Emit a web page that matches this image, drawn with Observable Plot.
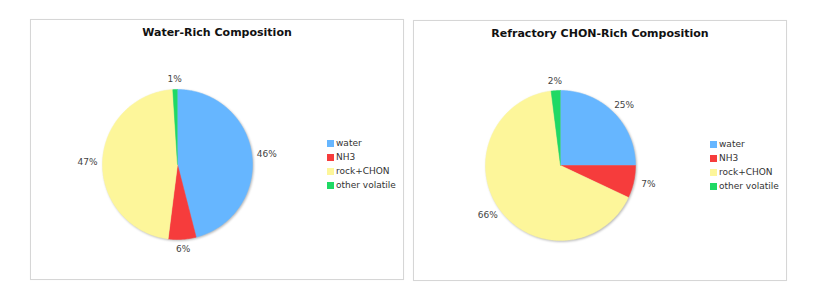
<!DOCTYPE html>
<html>
<head>
<meta charset="utf-8">
<script src="https://cdn.jsdelivr.net/npm/d3@7"></script>
<script src="https://cdn.jsdelivr.net/npm/@observablehq/plot@0.6"></script>
<style>
  html, body { margin: 0; padding: 0; background: #fff; }
  body { width: 830px; height: 289px; position: relative; overflow: hidden; font-family: "DejaVu Sans", sans-serif; }
  .panel { position: absolute; width: 372px; height: 259px; border: 1px solid #d6d6d6; background: #fff; box-shadow: 0 0 1px rgba(0,0,0,0.05); }
  .title { height: 26px; line-height: 26px; text-align: center; font-weight: bold; font-size: 11px; color: #111; }
  .legend { position: absolute; left: 296px; top: 116px; font-size: 9px; color: #333; }
  .legend .row { height: 14px; line-height: 14px; display: flex; align-items: center; white-space: nowrap; }
  .legend .sw { width: 7px; height: 7px; margin-right: 2px; display: inline-block; }
  .panel svg { display: block; }
  .panel svg g[aria-label="line"] { filter: drop-shadow(1px 1.5px 1px rgba(0,0,0,0.28)); }
</style>
</head>
<body>
<script>
const categories = ["water", "NH3", "rock+CHON", "other volatile"];
const colors = ["#66b6ff", "#f63c3c", "#fdf69a", "#1fd964"];
const titles = ["Water-Rich Composition", "Refractory CHON-Rich Composition"];
const waterRich = [46, 6, 47, 1];
const chonRich = [25, 7, 66, 2];
const panelLefts = [30, 413];
const panelTops = [19, 20];

const W = 372, H = 233, CX = 146, CY = 118, R = 75;

function slices(values) {
  const total = d3.sum(values);
  const pts = [];
  const labels = [];
  let acc = 0;
  values.forEach((v, i) => {
    const a0 = acc / total * 2 * Math.PI;
    acc += v;
    const a1 = acc / total * 2 * Math.PI;
    const n = Math.max(2, Math.ceil((a1 - a0) / (Math.PI / 180)));
    pts.push({key: categories[i], x: 0, y: 0});
    for (let k = 0; k <= n; k++) {
      const a = a0 + (a1 - a0) * k / n;
      pts.push({key: categories[i], x: R * Math.sin(a), y: R * Math.cos(a)});
    }
    const am = (a0 + a1) / 2;
    labels.push({key: categories[i], text: Math.round(v / total * 100) + "%", x: 90 * Math.sin(am), y: 85 * Math.cos(am)});
  });
  return {pts, labels};
}

function makePanel(idx, values) {
  const panel = document.createElement("div");
  panel.className = "panel";
  panel.style.left = panelLefts[idx] + "px";
  panel.style.top = panelTops[idx] + "px";
  const t = document.createElement("div");
  t.className = "title";
  t.textContent = titles[idx];
  panel.appendChild(t);

  const {pts, labels} = slices(values);
  const chart = Plot.plot({
    width: W,
    height: H,
    margin: 0,
    x: {domain: [-CX, W - CX], axis: null},
    y: {domain: [-(H - CY), CY], axis: null},
    color: {domain: categories, range: colors},
    marks: [
      Plot.line(pts, {x: "x", y: "y", z: "key", fill: "key", stroke: "key", strokeWidth: 0.5, curve: "linear"}),
      Plot.text(labels, {x: "x", y: "y", text: "text", fill: "#444", fontSize: 9, fontFamily: "DejaVu Sans"})
    ]
  });
  panel.appendChild(chart);

  const lg = document.createElement("div");
  lg.className = "legend";
  categories.forEach((c, i) => {
    const row = document.createElement("div");
    row.className = "row";
    const sw = document.createElement("span");
    sw.className = "sw";
    sw.style.background = colors[i];
    row.appendChild(sw);
    row.appendChild(document.createTextNode(c));
    lg.appendChild(row);
  });
  panel.appendChild(lg);
  document.body.appendChild(panel);
}

makePanel(0, waterRich);
makePanel(1, chonRich);
</script>
</body>
</html>
